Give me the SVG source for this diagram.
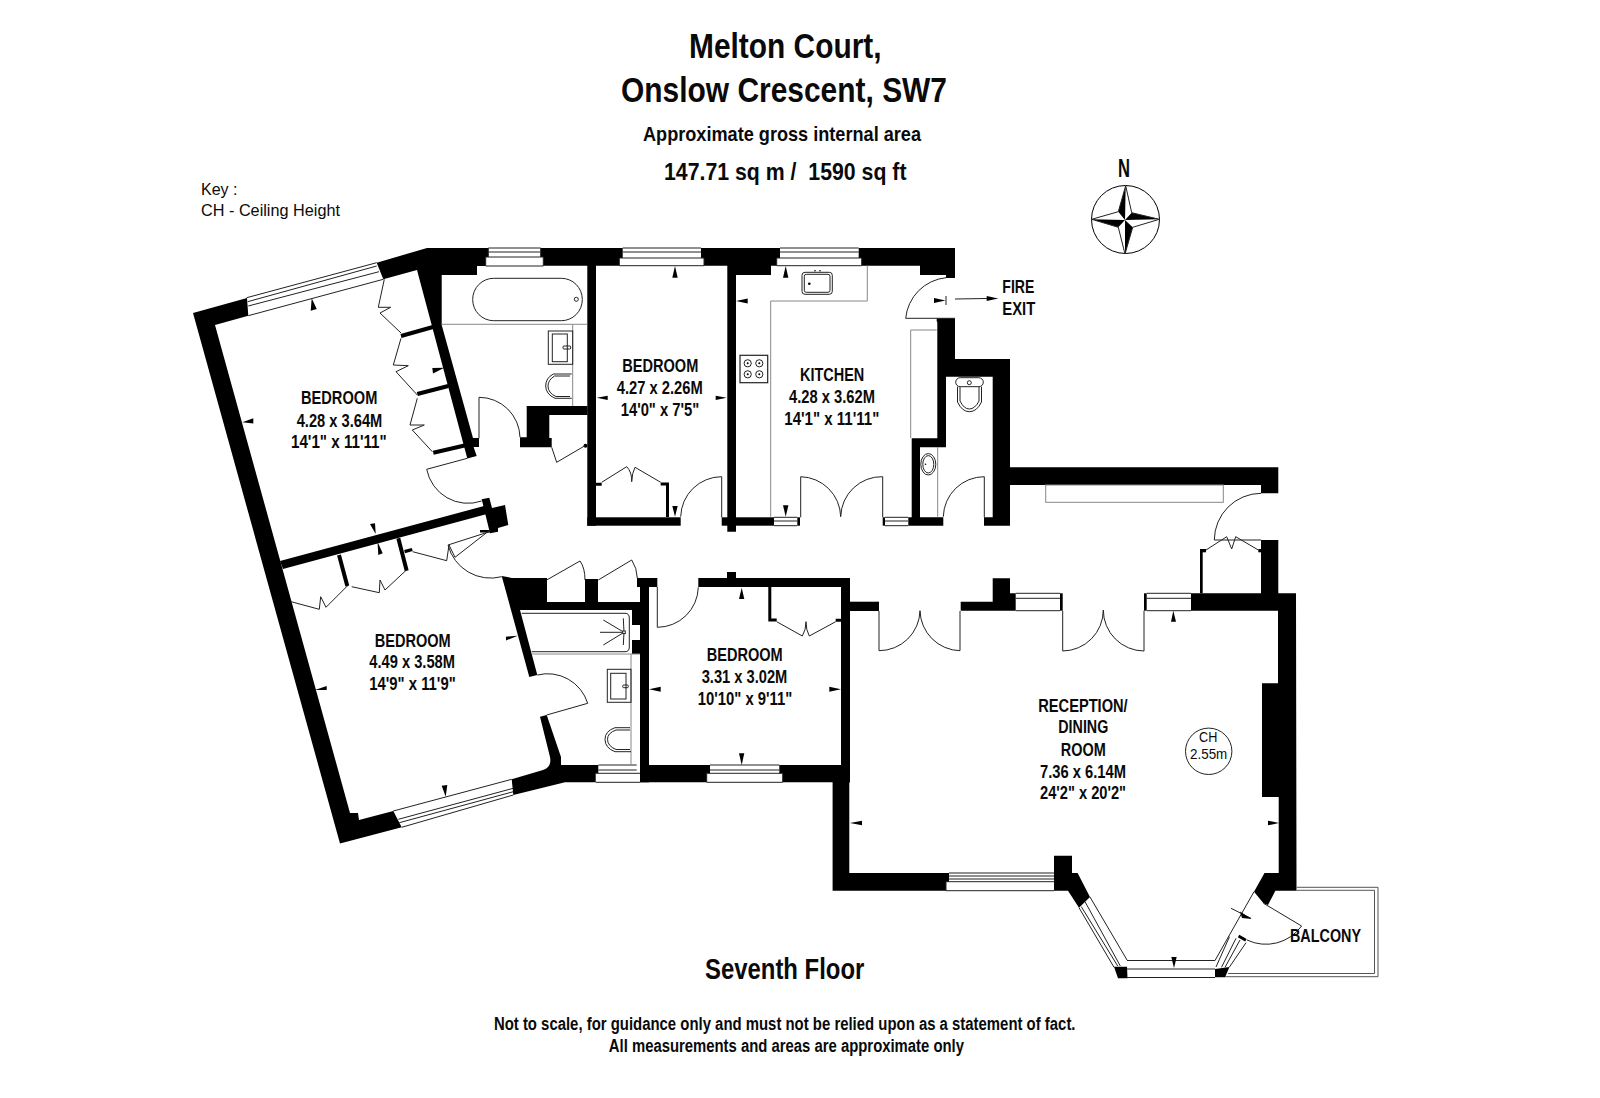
<svg xmlns="http://www.w3.org/2000/svg" width="1600" height="1098" viewBox="0 0 1600 1098">
<style>
text{font-family:"Liberation Sans",Arial,sans-serif;fill:#0a0a0a}
.b{font-weight:bold}
.r{font-size:17.5px;font-weight:bold}
.w{fill:#000;stroke:none}
.l{fill:none;stroke:#222;stroke-width:1}
.g{fill:none;stroke:#888;stroke-width:1}
.f{fill:#fff;stroke:#222;stroke-width:1}
.a{fill:#000;stroke:none}
</style>
<rect width="1600" height="1098" fill="#fff"/>

<g id="walls">
<polygon class="w" points="193,313 247,298 248.3,315.7 215,325 350,813 358,813 359,820 393.3,811 401.7,827.3 340,843.5"/>
<polygon class="w" points="376.7,262.7 427,248 488.3,248 488.3,257 485.7,257 485.7,266 477,266 477,275 441.7,275 441.7,325 473,438 479,438 479,447 473.6,447 476.7,456 467.3,458.6 417,270 383.3,279.3"/>
<polygon class="w" points="540.7,248 622.7,248 622.7,258 619.3,258 619.3,265.7 596,265.7 596,525.7 587.3,525.7 587.3,265.7 543.3,265.7 543.3,257 540.7,257"/>
<polygon class="w" points="701,248 780,248 780,258 776.7,258 776.7,265.7 771,265.7 771,275 736,275 736,531.7 727.3,531.7 727.3,265.7 704,265.7 704,258 701,258"/>
<polygon class="w" points="858.7,248 955,248 955,278 946,278 946,275 920,275 920,265.7 861.7,265.7 861.7,258 858.7,258"/>
<rect class="w" x="587.3" y="517.3" width="93.4" height="8.4"/>
<rect class="w" x="721.7" y="517.3" width="52.3" height="8.4"/>
<rect class="w" x="797.3" y="517.3" width="2.7" height="8.4"/>
<rect class="w" x="882.7" y="517.3" width="2.3" height="8.4"/>
<polygon class="w" points="526.7,406 587.5,406 587.5,415 549.3,415 549.3,438 551.7,438 551.7,447.3 520,447.3 520,437.3 526.7,437.3"/>
<polygon class="w" points="936.7,318.3 955,318.3 955,359 1010,359 1010,467.3 1278.3,467.3 1278.3,493.3 1261,493.3 1261,485 1010,485 1010,525.7 984,525.7 984,517.3 992.7,517.3 992.7,376.7 946,376.7 946,447.3 920,447.3 920,517.3 943.3,517.3 943.3,525.7 908.3,525.7 908.3,517.3 911.7,517.3 911.7,438.3 937.3,438.3 937.3,321.7 936.7,321.7"/>
<polygon class="w" points="280,561 484,506 487,514 283,569"/>
<polygon class="w" points="481.7,499.3 489.3,497.7 492,508 505,505 508.3,525 498,528 498,531.7 490,533.3"/>
<polygon class="w" points="501.7,576 512,578 547,578 547,602 585,602 585,579 598,579 598,602 640,602 640,610 520,610 537.3,675 529.3,677"/>
<path class="w" d="M540 716.7L546.7 715L561 757V765H598.3V773.3H595.7V782.3H565L513.3 795L511.7 779.3L543 770Q552 767 550 757Z"/>
<rect class="w" x="632" y="610" width="8" height="15"/>
<rect class="w" x="632" y="640" width="8" height="14"/>
<rect class="w" x="640" y="578" width="9" height="204.3"/>
<rect class="w" x="637" y="578" width="20.3" height="9"/>
<polygon class="w" points="640,765 710,765 710,773.3 706.7,773.3 706.7,782.3 640,782.3"/>
<rect class="w" x="698.3" y="578" width="151.7" height="9"/>
<rect class="w" x="727" y="572" width="9" height="7"/>
<rect class="w" x="841" y="578" width="9" height="204.3"/>
<polygon class="w" points="779.3,765 850,765 850,782.3 782.7,782.3 782.7,773.3 779.3,773.3"/>
<polygon class="w" points="832.6,782 849.3,782 849.3,873 949,873 949,881.7 946,881.7 946,890.7 832.6,890.7"/>
<rect class="w" x="850" y="601.7" width="29" height="9.3"/>
<polygon class="w" points="960.7,601.7 992.7,601.7 992.7,578.3 1010,578.3 1010,593.3 1015.7,593.3 1015.7,610.7 960.7,610.7"/>
<rect class="w" x="1060" y="593.3" width="2.7" height="17.4"/>
<rect class="w" x="1144" y="593.3" width="2.7" height="17.4"/>
<polygon class="w" points="1191,593.3 1261,593.3 1261,540 1278.3,540 1278.3,593.3 1296,593.3 1296.5,890.7 1275.4,890.7 1268,905 1263.5,903.3 1254,891.7 1264.5,873 1278.7,873 1278.7,797 1262,797 1262,683.3 1278,683.3 1278,610.7 1191,610.7"/>
<polygon class="w" points="1054,855.7 1072,855.7 1072,873 1077.6,873 1090,897 1079,907.7 1068,890.7 1054,890.7"/>
<polygon class="w" points="1114,966.7 1127,966.7 1127.5,978.3 1118,978.3"/>
<polygon class="w" points="1215,969 1229.5,967 1225,977.3 1215,977.3"/>
<rect class="w" x="1200" y="550" width="2.7" height="43.3"/>
<rect class="w" x="1200" y="549" width="6" height="3.3"/>
<rect class="w" x="1258.3" y="549" width="3" height="3.3"/>
<path class="l" style="stroke:#000;stroke-width:4" d="M401 336L433 327M417.3 394L448.3 386M433.3 452.7L466.7 445M339 555L347.3 586M398.3 538.3L406.7 570.7"/>
<rect class="w" x="404.5" y="549" width="8" height="3.3" transform="rotate(-15 408 551)"/>
<rect class="w" x="480" y="530" width="10" height="2.5"/>
<path class="l" style="stroke:#000;stroke-width:3" d="M769.8 587V620H776.7M835.7 620.3H841M667.5 517V484H660.7M596 484.2H601.7"/>
<rect class="w" x="1238" y="936.5" width="8.5" height="3" transform="rotate(30 1242 938)"/>
<circle class="a" cx="585.5" cy="445.7" r="2"/>
</g>

<g id="windows">
<path class="l" d="M246.7 297.7L376.7 262.7M247.7 301.7L376.7 266M248.3 306L379 271.7M248.3 315.7L383.3 279.3"/>
<path class="l" d="M488.3 248H540.7M488.3 252H540.7M485.7 257H543.3M485.7 266H543.3M488.3 248V257M540.7 248V257M485.7 257V266M543.3 257V266"/>
<path class="l" d="M622.7 248H701M622.7 252H701M619.3 258H704M619.3 265.7H704M619.3 258V265.7M704 258V265.7"/>
<path class="l" d="M780 248H858.7M780 252H858.7M776.7 258H861.7M776.7 265.7H861.7M776.7 258V265.7M861.7 258V265.7"/>
<path class="l" d="M774 517.3H797.3M774 521H797.3M774 525.7H797.3M885 517.3H908.3M885 521H908.3M885 525.7H908.3"/>
<path class="l" d="M393.3 811L511.7 779.3M398.3 819.3L513.3 788.3M399.3 822.7L513.3 791.7M401.7 827.3L513.3 795"/>
<path class="l" d="M598.3 765H636.7M598.3 770H636.7M595.7 773.3H640M595.7 782.3H640"/>
<path class="l" d="M710 765H779.3M710 770H779.3M706.7 773.3H782.7M706.7 782.3H782.7M706.7 773.3V782.3M782.7 773.3V782.3"/>
<path class="l" d="M949 873H1054M949 876H1054M949 879H1054M946 881.7H1054M946 890.7H1054M946 881.7V890.7"/>
<path class="l" d="M1015.7 593.3H1060M1015.7 598.3H1060M1015.7 610.7H1060M1146.7 593.3H1191M1146.7 598.3H1191M1146.7 610.7H1191"/>
<path class="l" d="M1090 897L1127 960M1079 907.7L1114 967.3M1081.3 906.7L1117.7 966M1085 901.7L1120.3 966"/>
<path class="l" d="M1127 960.5H1215M1127 969H1215M1127 977.5H1215M1215 960.5L1254 891.7"/>
<path class="l" d="M1229.5 936.7L1216 967M1236 938.3L1221.5 967.3M1240 940L1225 967.3M1246 942.7L1229.5 967"/>
</g>

<g id="doors">
<path class="l" d="M721.7 517.3V476.7A41 41 0 0 0 680.7 516.7"/>
<path class="l" d="M800.7 517.3V476.7A41 41 0 0 1 840.7 516.7M882.7 517.3V476.7A41 41 0 0 0 840.7 516.7"/>
<path class="l" d="M984.3 517.3V476.7A41 41 0 0 0 943.3 516.7"/>
<path class="l" d="M879 611V650.7A41 41 0 0 0 920 610.7M960 611V650.7A41 41 0 0 1 920 610.7"/>
<path class="l" d="M1062.7 610.7V651A41 41 0 0 0 1103.3 610M1144 610.7V651A41 41 0 0 1 1103.3 610"/>
<path class="l" d="M657.3 587V627.3A41 41 0 0 0 698.3 587.3"/>
<path class="l" d="M955 318.3H905.7A45 45 0 0 1 946 277.7"/>
<path class="l" d="M1261 540H1214.3A47 47 0 0 1 1261 493.3"/>
<path class="l" d="M479 438.3V397.3A41 41 0 0 1 520 437.3"/>
<path class="l" d="M467.3 458.3L426.7 469.3A42 42 0 0 0 481.7 501"/>
<path class="l" d="M490 531.5L448 545A44 44 0 0 0 501.7 576.7"/>
<path class="l" d="M546.7 715L587.7 703.3A42 42 0 0 0 537.3 675"/>
<path class="l" d="M1263.5 903.3L1301.6 926A44 44 0 0 1 1247 940"/>
<path class="l" d="M384.3 279.3L378.3 307.3L390.7 307.3L380 313L401 333M401 338.3L393.3 365L408.3 365.7L396 371.7L417.3 395M417.3 398.3L410 425L424.3 425L412.3 430L432.3 451.7"/>
<path class="l" d="M551.7 447.3L556.7 462.3L585 445.7"/>
<path class="l" d="M601.7 482.3L626.7 466.7Q632 472 631.7 481.7Q632 473 635 467.3L660.7 482.3"/>
<path class="l" d="M291 601.7L319.3 609.3L320.7 596.7L326 607.3L347.3 586M351.7 586.7L379.3 592.7L380 580L385 590L405.7 570.7M412.7 551.7L446.7 560.7L449 545L455 557.3L490 530"/>
<path class="l" d="M546.7 580L580 561Q585 568 585 580M598.3 580L631.7 560Q637 568 637.3 578"/>
<path class="l" d="M776.7 621.7L802.3 636Q806 630 806 621.7Q806 630 809.3 636L835.7 621.7"/>
<path class="l" d="M1206 550L1226.7 536.7L1231.7 549L1235.7 536.7L1258.3 550"/>
</g>

<g id="fixtures">
<rect class="l" x="472.7" y="278.3" width="109.6" height="42.4" rx="21" ry="21"/>
<circle class="l" cx="576.3" cy="299.3" r="2"/>
<path class="g" d="M441.7 324.3H587.3M572.7 324.3V406"/>
<rect class="l" x="548.3" y="331" width="24.4" height="33.3"/>
<rect class="l" x="552.3" y="334" width="15" height="27.7"/>
<rect class="l" x="563" y="346" width="7.7" height="3" rx="1"/>
<path class="l" d="M571.7 374H553.3Q545.7 378 545.7 386Q545.7 394 555 398.3H571.7M570 376H554.5Q548 380 548 386Q548 393 556 396.5H570"/>
<path class="g" d="M770.7 516.7V301H867.3V265.7"/>
<rect class="l" x="740" y="355.3" width="27.7" height="27.4" style="stroke-width:1.2"/>
<circle class="l" cx="747.7" cy="363.3" r="3.6"/><circle class="l" cx="759.3" cy="363.3" r="3.6"/>
<circle class="l" cx="747.7" cy="374.3" r="3.6"/><circle class="l" cx="759.3" cy="374.3" r="3.6"/>
<circle class="a" cx="747.7" cy="363.3" r="1"/><circle class="a" cx="759.3" cy="363.3" r="1"/>
<circle class="a" cx="747.7" cy="374.3" r="1"/><circle class="a" cx="759.3" cy="374.3" r="1"/>
<rect class="l" x="802" y="272.3" width="30.3" height="22" rx="3"/>
<rect class="l" x="804.3" y="274.3" width="25.7" height="18" rx="2"/>
<circle class="a" cx="809.3" cy="283.7" r="1.3"/>
<circle class="a" cx="815" cy="270.7" r="0.8"/><circle class="a" cx="820" cy="270.7" r="0.8"/>
<path class="g" d="M936.7 330H910.7V438"/>
<rect class="l" x="955.7" y="377.7" width="27.6" height="9" rx="4.5"/>
<circle class="l" cx="969.3" cy="382.7" r="2"/>
<path class="l" d="M957.5 386.7V402Q962 411.7 969.3 411.7Q977 411.7 981.5 402V386.7M960 386.7V401Q964 409 969.3 409Q975 409 979 401V386.7"/>
<ellipse class="l" cx="928.3" cy="464.3" rx="7.5" ry="10.7"/>
<ellipse class="l" cx="928.3" cy="464.3" rx="5.5" ry="8.7"/>
<circle class="a" cx="925.5" cy="464.3" r="0.8"/>
<path class="g" d="M937.7 447V516.7"/>
<rect class="g" x="1045.7" y="485" width="177.6" height="17.3"/>
<path class="l" d="M521.7 613.3H625Q629.3 613.3 629.3 618V647Q629.3 651.7 625 651.7H531.7"/>
<path class="g" d="M531.7 654H640M631 654V765"/>
<path class="l" d="M600 632.3L624 632.3M603.3 620L624 632.3M603.3 645L624 632.3M623.3 618.3L624 632.3M623.3 645L624 632.3"/>
<rect class="f" x="622.7" y="631" width="2.6" height="2.6"/>
<rect class="l" x="607.3" y="669.3" width="23.7" height="33"/>
<rect class="l" x="610.7" y="673.3" width="15.3" height="25.7"/>
<rect class="l" x="622.7" y="685" width="5.6" height="2.7" rx="1"/>
<path class="l" d="M630 727.7H615Q605 731 605 739.3Q605 748 615 751.7H631M630 730H616Q607.5 733 607.5 739.3Q607.5 746 616 749.5H630"/>
<path class="l" style="stroke:#555" d="M1296.5 887.3H1378V976.7H1225M1296.5 890.3H1374.5V973.5H1228"/>
<circle class="l" cx="1208.7" cy="751.3" r="23.2"/>
</g>

<g id="connectors">
<path class="l" d="M955 299L987 298.5M946 296V305"/>
<polygon class="a" points="998.3,298.5 986.7,296 986.7,301"/>
<polygon class="a" points="945.5,300.5 934,298 934,303"/>
<path class="l" d="M1231 908.3L1251 918.3"/>
<polygon class="a" points="1251.5,919 1240,911.5 1242,918"/>
<polygon class="a" points="311.7,298.3 310.7,310.7 316.7,309"/>
<polygon class="a" points="444.3,367.7 432.3,368 433,373.5"/>
<polygon class="a" points="242.3,422.3 253.3,418.3 253.3,423.5"/>
<polygon class="a" points="375.7,534 370,524 375,523.3"/>
<polygon class="a" points="377.5,541.7 378.3,555 382.7,553.3"/>
<polygon class="a" points="315,690 326.7,686 326.7,690"/>
<polygon class="a" points="517.7,635.7 506,636.7 506,640.5"/>
<polygon class="a" points="445.7,796.7 441.7,785.7 447.3,785"/>
<polygon class="a" points="675,266 672.3,277.7 677.7,277.7"/>
<polygon class="a" points="596.7,397.7 607.7,395.7 607.7,400"/>
<polygon class="a" points="726.7,397.7 715.7,395.7 715.7,400"/>
<polygon class="a" points="675,516.7 672.3,506 677.7,506"/>
<polygon class="a" points="785.7,266 783,277.7 788.4,277.7"/>
<polygon class="a" points="736,301 747.7,298.5 747.7,303.5"/>
<polygon class="a" points="785.7,516.7 783,505.3 788.4,505.3"/>
<polygon class="a" points="741.7,587.7 739,599 744.3,599"/>
<polygon class="a" points="649,689.3 660.7,686.7 660.7,691.7"/>
<polygon class="a" points="841,689.3 829.3,686.7 829.3,691.7"/>
<polygon class="a" points="741.7,765 739,753.3 744.3,753.3"/>
<polygon class="a" points="1173.3,610.7 1171,621.7 1176,621.7"/>
<polygon class="a" points="850,823 862,820.7 862,825.3"/>
<polygon class="a" points="1279,823 1268,820.7 1268,825.3"/>
<polygon class="a" points="1174,968 1171.3,957 1176.7,957"/>
</g>

<g id="compass">
<circle class="l" cx="1125.5" cy="219.5" r="34" style="stroke:#000"/>
<polygon class="a" points="1125.7,185.7 1118.3,211.7 1125,220"/>
<polygon class="a" points="1159.3,219.3 1131.7,212.7 1125,220"/>
<polygon class="a" points="1125,254 1132.7,227.3 1125,220"/>
<polygon class="a" points="1091.7,219.3 1118.3,227.3 1125,220"/>
<path class="l" d="M1125.7 185.7L1131.7 212.7L1159.3 219.3L1132.7 227.3L1125 254L1118.3 227.3L1091.7 219.3L1118.3 211.7Z"/>
<text class="b" x="1118" y="176.5" font-size="25" textLength="12" lengthAdjust="spacingAndGlyphs">N</text>
</g>

<g id="title">
<text class="b" x="689" y="58" font-size="35" textLength="192.6" lengthAdjust="spacingAndGlyphs">Melton Court,</text>
<text class="b" x="621" y="101.7" font-size="35" textLength="326" lengthAdjust="spacingAndGlyphs">Onslow Crescent, SW7</text>
<text class="b" x="643" y="140.7" font-size="20.5" textLength="278" lengthAdjust="spacingAndGlyphs">Approximate gross internal area</text>
<text class="b" x="664" y="180" font-size="24.5" textLength="242.5" lengthAdjust="spacingAndGlyphs" xml:space="preserve">147.71 sq m /  1590 sq ft</text>
<text x="201" y="194.5" font-size="17" textLength="36.5" lengthAdjust="spacingAndGlyphs">Key :</text>
<text x="201" y="216" font-size="17" textLength="139" lengthAdjust="spacingAndGlyphs">CH - Ceiling Height</text>
<text x="1002.3" y="292.7" class="r" textLength="32" lengthAdjust="spacingAndGlyphs">FIRE</text>
<text x="1002.3" y="315" class="r" textLength="33" lengthAdjust="spacingAndGlyphs">EXIT</text>
</g>

<g id="bedroom-1">
<text class="r" x="301" y="404" textLength="76.3" lengthAdjust="spacingAndGlyphs">BEDROOM</text>
<text class="r" x="296.7" y="426.7" textLength="85.6" lengthAdjust="spacingAndGlyphs">4.28 x 3.64M</text>
<text class="r" x="291" y="448.3" textLength="95.7" lengthAdjust="spacingAndGlyphs">14'1" x 11'11"</text>
</g>
<g id="bedroom-2">
<text class="r" x="622.3" y="372.3" textLength="76" lengthAdjust="spacingAndGlyphs">BEDROOM</text>
<text class="r" x="616.7" y="394" textLength="86" lengthAdjust="spacingAndGlyphs">4.27 x 2.26M</text>
<text class="r" x="620.7" y="416" textLength="78.6" lengthAdjust="spacingAndGlyphs">14'0" x 7'5"</text>
</g>
<g id="kitchen">
<text class="r" x="800" y="381" textLength="64.3" lengthAdjust="spacingAndGlyphs">KITCHEN</text>
<text class="r" x="789" y="402.7" textLength="86" lengthAdjust="spacingAndGlyphs">4.28 x 3.62M</text>
<text class="r" x="784.3" y="425" textLength="95" lengthAdjust="spacingAndGlyphs">14'1" x 11'11"</text>
</g>
<g id="bedroom-3">
<text class="r" x="374.7" y="646.7" textLength="76" lengthAdjust="spacingAndGlyphs">BEDROOM</text>
<text class="r" x="369.3" y="668.3" textLength="85.7" lengthAdjust="spacingAndGlyphs">4.49 x 3.58M</text>
<text class="r" x="369.3" y="690" textLength="86.4" lengthAdjust="spacingAndGlyphs">14'9" x 11'9"</text>
</g>
<g id="bedroom-4">
<text class="r" x="706.7" y="661" textLength="76" lengthAdjust="spacingAndGlyphs">BEDROOM</text>
<text class="r" x="701.7" y="682.7" textLength="85.6" lengthAdjust="spacingAndGlyphs">3.31 x 3.02M</text>
<text class="r" x="697.7" y="705" textLength="94.6" lengthAdjust="spacingAndGlyphs">10'10" x 9'11"</text>
</g>
<g id="reception">
<text class="r" x="1038.3" y="711.7" textLength="89.4" lengthAdjust="spacingAndGlyphs">RECEPTION/</text>
<text class="r" x="1058.3" y="733.3" textLength="50" lengthAdjust="spacingAndGlyphs">DINING</text>
<text class="r" x="1060.7" y="755.7" textLength="45" lengthAdjust="spacingAndGlyphs">ROOM</text>
<text class="r" x="1040" y="778.3" textLength="86" lengthAdjust="spacingAndGlyphs">7.36 x 6.14M</text>
<text class="r" x="1040" y="799.3" textLength="86" lengthAdjust="spacingAndGlyphs">24'2" x 20'2"</text>
<text x="1199" y="741.7" font-size="14.5" textLength="18.3" lengthAdjust="spacingAndGlyphs">CH</text>
<text x="1190" y="759" font-size="14.5" textLength="37.3" lengthAdjust="spacingAndGlyphs">2.55m</text>
</g>
<g id="balcony">
<text class="r" x="1290" y="942.3" textLength="71" lengthAdjust="spacingAndGlyphs">BALCONY</text>
</g>
<g id="footer">
<text class="b" x="705" y="979.3" font-size="29" textLength="159.3" lengthAdjust="spacingAndGlyphs">Seventh Floor</text>
<text class="b" x="493.9" y="1030" font-size="18" textLength="581.6" lengthAdjust="spacingAndGlyphs">Not to scale, for guidance only and must not be relied upon as a statement of fact.</text>
<text class="b" x="608.8" y="1052.3" font-size="18" textLength="355.2" lengthAdjust="spacingAndGlyphs">All measurements and areas are approximate only</text>
</g>
</svg>
